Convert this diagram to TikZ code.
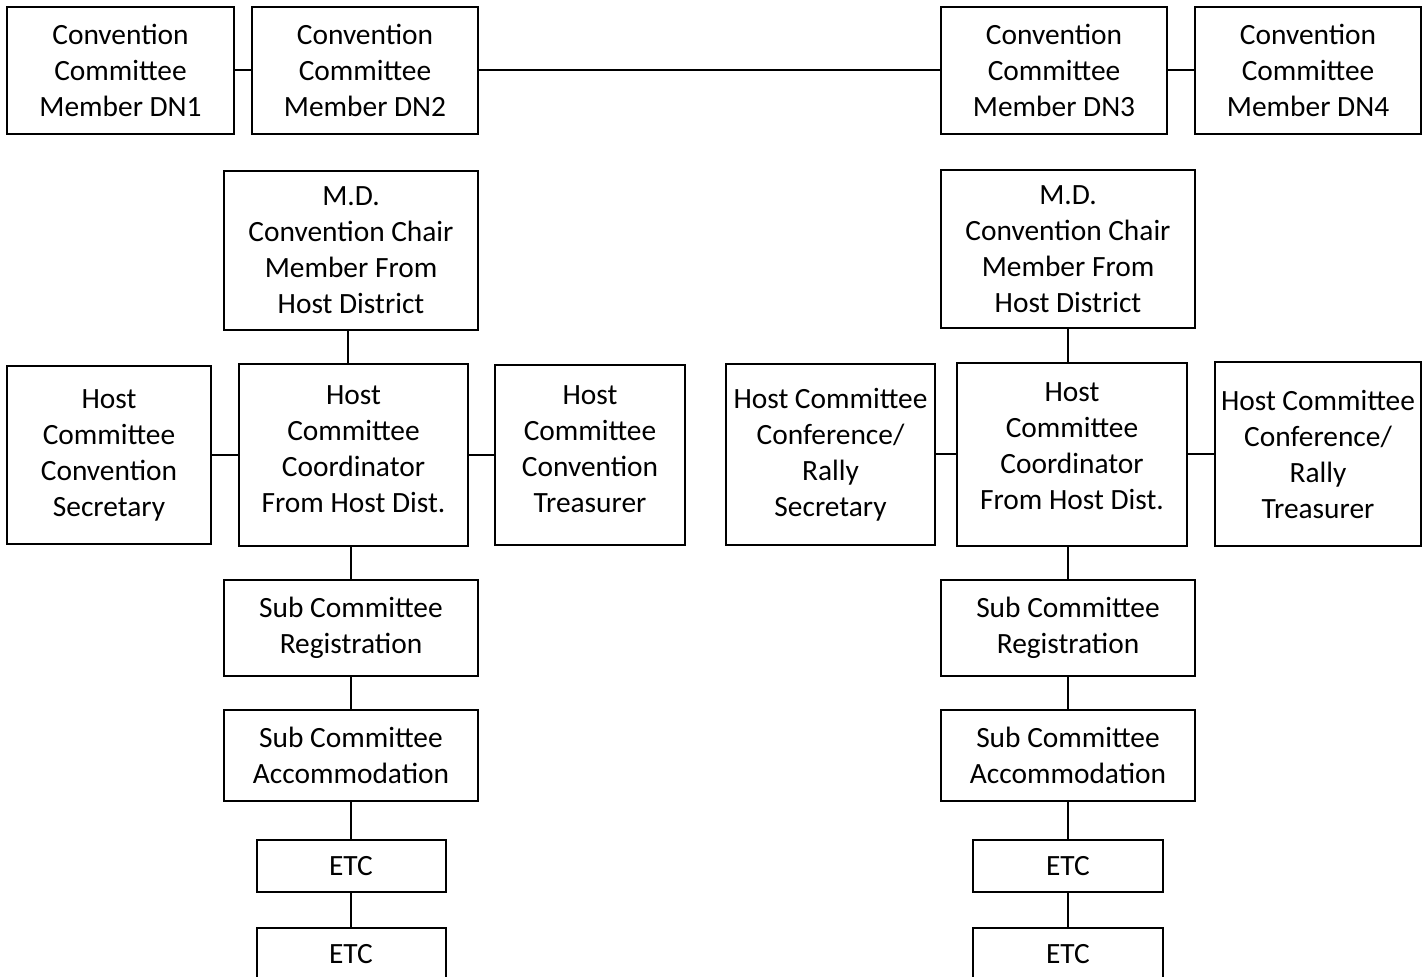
\documentclass[tikz,border=0pt]{standalone}
\usepackage{fontspec}
\setmainfont{Carlito}
\usepackage{tikz}
\usetikzlibrary{positioning}

\tikzset{
  box/.style={draw, line width=1pt, align=center, inner sep=0pt,
    font=\fontsize{14.7}{18}\selectfont},
  link/.style={line width=1pt}
}

\begin{document}
\begin{tikzpicture}[x=0.5pt,y=-0.5pt]
\useasboundingbox (0,0) rectangle (1427,977);
% top row
\node[box,minimum width=113.5pt,minimum height=63.5pt] (dnA) at (120.5,70.5) {Convention\\Committee\\Member DN1};
\node[box,minimum width=113pt,minimum height=63.5pt] (dnB) at (365,70.5) {Convention\\Committee\\Member DN2};
\node[box,minimum width=113pt,minimum height=63.5pt] (dnC) at (1054,70.5) {Convention\\Committee\\Member DN3};
\node[box,minimum width=113pt,minimum height=63.5pt] (dnD) at (1308,70.5) {Convention\\Committee\\Member DN4};
\draw[link] (dnA) -- (dnB);
\draw[link] (dnB) -- (dnC);
\draw[link] (dnC) -- (dnD);

% left side
\node[box,minimum width=127pt,minimum height=79.5pt] (chairL) at (351,250.5) {M.D.\\Convention Chair\\Member From\\Host District};
\node[box,minimum width=114.5pt,minimum height=91pt] (coordL) at (353.5,455) {Host\\Committee\\Coordinator\\From Host Dist.\\[-12pt]};
\node[box,minimum width=102pt,minimum height=89pt] (secL) at (109,455) {Host\\Committee\\Convention\\Secretary};
\node[box,minimum width=95pt,minimum height=90pt] (treasL) at (590,455) {Host\\Committee\\Convention\\Treasurer\\[-12pt]};
\node[box,minimum width=127pt,minimum height=48pt] (regL) at (351,628) {Sub Committee\\Registration};
\node[box,minimum width=127pt,minimum height=45.5pt] (accL) at (351,755.5) {Sub Committee\\Accommodation};
\node[box,minimum width=94.5pt,minimum height=26pt] (etcL) at (351,866) {ETC};
\node[box,minimum width=94.5pt,minimum height=26pt] (etcLL) at (351,954) {ETC};
\draw[link] (chairL.south -| 348,0) -- (coordL.north -| 348,0);
\draw[link] (secL) -- (secL -| coordL.west);
\draw[link] (coordL.east) -- (coordL.east -| treasL.west);
\draw[link] (coordL.south -| regL) -- (regL);
\draw[link] (regL) -- (accL);
\draw[link] (accL) -- (etcL);
\draw[link] (etcL) -- (etcLL);

% right side
\node[box,minimum width=127pt,minimum height=79pt] (chairR) at (1068,249) {M.D.\\Convention Chair\\Member From\\Host District};
\node[box,minimum width=115pt,minimum height=91.5pt] (coordR) at (1072,454.5) {Host\\Committee\\Coordinator\\From Host Dist.\\[-9.5pt]};
\node[box,minimum width=104.5pt,minimum height=90.5pt] (secR) at (830.5,454.5) {Host Committee\\Conference/\\Rally\\Secretary};
\node[box,minimum width=103pt,minimum height=92pt] (treasR) at (1318,454) {Host Committee\\Conference/\\Rally\\Treasurer};
\node[box,minimum width=127pt,minimum height=48pt] (regR) at (1068,628) {Sub Committee\\Registration};
\node[box,minimum width=127pt,minimum height=45.5pt] (accR) at (1068,755.5) {Sub Committee\\Accommodation};
\node[box,minimum width=95pt,minimum height=26pt] (etcR) at (1068,866) {ETC};
\node[box,minimum width=95pt,minimum height=26pt] (etcRR) at (1068,954) {ETC};
\draw[link] (chairR) -- (chairR |- coordR.north);
\draw[link] (secR) -- (secR -| coordR.west);
\draw[link] (coordR.east) -- (coordR.east -| treasR.west);
\draw[link] (coordR.south -| regR) -- (regR);
\draw[link] (regR) -- (accR);
\draw[link] (accR) -- (etcR);
\draw[link] (etcR) -- (etcRR);
\end{tikzpicture}
\end{document}
